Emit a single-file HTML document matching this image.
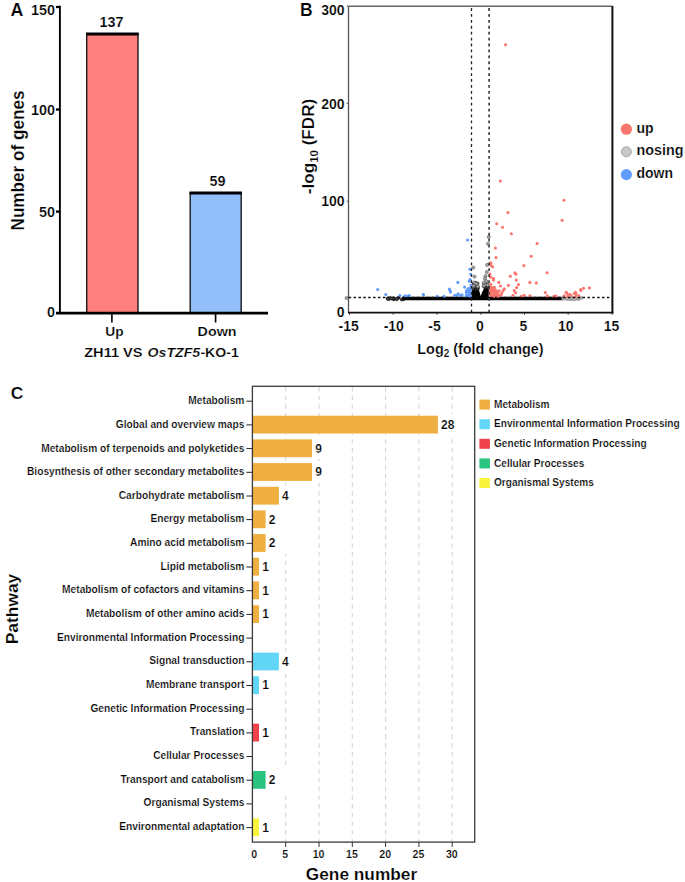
<!DOCTYPE html>
<html><head><meta charset="utf-8"><style>
html,body{margin:0;padding:0;background:#fff;width:685px;height:882px;overflow:hidden}
svg{display:block;font-family:"Liberation Sans", sans-serif}
</style></head><body>
<svg width="685" height="882" viewBox="0 0 685 882" font-family='"Liberation Sans", sans-serif'>
<style>text{stroke:#fff;stroke-width:0.2px}</style>
<rect width="685" height="882" fill="#fff"/>
<text x="10.4" y="15.8" font-size="17.8" font-weight="bold" fill="#000" >A</text>
<line x1="59.9" y1="5.8" x2="59.9" y2="314" stroke="#000" stroke-width="1.9"/>
<line x1="56" y1="7.0" x2="60" y2="7.0" stroke="#000" stroke-width="2.3"/>
<line x1="56" y1="109.5" x2="60" y2="109.5" stroke="#000" stroke-width="2.3"/>
<line x1="56" y1="211.6" x2="60" y2="211.6" stroke="#000" stroke-width="2.3"/>
<rect x="86.7" y="33.9" width="51.3" height="279.1" fill="#FF7F7F" stroke="#1a1a1a" stroke-width="1.4"/>
<line x1="86.0" y1="33.9" x2="138.7" y2="33.9" stroke="#000" stroke-width="3"/>
<rect x="190.2" y="193.1" width="51.0" height="119.9" fill="#92BFFA" stroke="#1a1a1a" stroke-width="1.4"/>
<line x1="189.5" y1="193.1" x2="241.89999999999998" y2="193.1" stroke="#000" stroke-width="3"/>
<line x1="56" y1="313.2" x2="268" y2="313.2" stroke="#000" stroke-width="2.8"/>
<line x1="111.9" y1="314" x2="111.9" y2="322.5" stroke="#000" stroke-width="1.6"/>
<line x1="215.6" y1="314" x2="215.6" y2="322.5" stroke="#000" stroke-width="1.6"/>
<text x="55" y="14.6" font-size="14.4" font-weight="bold" fill="#000" text-anchor="end" >150</text>
<text x="55" y="114.6" font-size="14.4" font-weight="bold" fill="#000" text-anchor="end" >100</text>
<text x="55" y="216.6" font-size="14.4" font-weight="bold" fill="#000" text-anchor="end" >50</text>
<text x="55" y="316.9" font-size="14.4" font-weight="bold" fill="#000" text-anchor="end" >0</text>
<text x="111.6" y="27.3" font-size="14.4" font-weight="bold" fill="#000" text-anchor="middle" >137</text>
<text x="217.6" y="186.4" font-size="14.4" font-weight="bold" fill="#000" text-anchor="middle" >59</text>
<text x="105.3" y="335.7" font-size="13.5" font-weight="bold" fill="#000" textLength="18.3" lengthAdjust="spacingAndGlyphs" >Up</text>
<text x="197.6" y="335.7" font-size="13.6" font-weight="bold" fill="#000" textLength="39" lengthAdjust="spacingAndGlyphs" >Down</text>
<text x="84.2" y="356.6" font-size="13.3" font-weight="bold" fill="#000" textLength="58.4" lengthAdjust="spacingAndGlyphs" >ZH11 VS</text>
<text x="147.6" y="356.6" font-size="13.3" font-weight="bold" fill="#000" textLength="52.6" lengthAdjust="spacingAndGlyphs" font-style="italic" >OsTZF5</text>
<text x="200.4" y="356.6" font-size="13.3" font-weight="bold" fill="#000" textLength="38.4" lengthAdjust="spacingAndGlyphs" >-KO-1</text>
<text x="0" y="0" font-size="17.7" font-weight="bold" fill="#000" textLength="140" lengthAdjust="spacingAndGlyphs" transform="translate(23.9,230.5) rotate(-90)" >Number of genes</text>
<text x="300" y="15.8" font-size="17.5" font-weight="bold" fill="#000" >B</text>
<line x1="348.5" y1="6.2" x2="612.4" y2="6.2" stroke="#666" stroke-width="1.4"/>
<line x1="348.5" y1="6" x2="348.5" y2="313" stroke="#555" stroke-width="1.3"/>
<line x1="612.4" y1="6" x2="612.4" y2="313.6" stroke="#111" stroke-width="2"/>
<line x1="348" y1="312.7" x2="613.4" y2="312.7" stroke="#111" stroke-width="1.8"/>
<line x1="346.8" y1="6.2" x2="348.5" y2="6.2" stroke="#555" stroke-width="1"/>
<line x1="346.8" y1="103.4" x2="348.5" y2="103.4" stroke="#555" stroke-width="1"/>
<line x1="346.8" y1="201.2" x2="348.5" y2="201.2" stroke="#555" stroke-width="1"/>
<line x1="349.5" y1="312.7" x2="349.5" y2="314.7" stroke="#333" stroke-width="1"/>
<line x1="393.2" y1="312.7" x2="393.2" y2="314.7" stroke="#333" stroke-width="1"/>
<line x1="437.0" y1="312.7" x2="437.0" y2="314.7" stroke="#333" stroke-width="1"/>
<line x1="480.8" y1="312.7" x2="480.8" y2="314.7" stroke="#333" stroke-width="1"/>
<line x1="524.5" y1="312.7" x2="524.5" y2="314.7" stroke="#333" stroke-width="1"/>
<line x1="568.2" y1="312.7" x2="568.2" y2="314.7" stroke="#333" stroke-width="1"/>
<line x1="612.0" y1="312.7" x2="612.0" y2="314.7" stroke="#333" stroke-width="1"/>
<circle cx="567.8" cy="298.0" r="1.3" fill="#bdbdbd" stroke="#808080" stroke-width="0.5"/>
<circle cx="574.7" cy="297.9" r="1.3" fill="#bdbdbd" stroke="#808080" stroke-width="0.5"/>
<circle cx="572.3" cy="298.4" r="1.3" fill="#bdbdbd" stroke="#808080" stroke-width="0.5"/>
<circle cx="562.2" cy="298.6" r="1.3" fill="#bdbdbd" stroke="#808080" stroke-width="0.5"/>
<circle cx="561.8" cy="298.5" r="1.3" fill="#bdbdbd" stroke="#808080" stroke-width="0.5"/>
<circle cx="562.5" cy="297.9" r="1.3" fill="#bdbdbd" stroke="#808080" stroke-width="0.5"/>
<circle cx="569.9" cy="299.1" r="1.3" fill="#bdbdbd" stroke="#808080" stroke-width="0.5"/>
<circle cx="563.6" cy="298.2" r="1.3" fill="#bdbdbd" stroke="#808080" stroke-width="0.5"/>
<circle cx="574.2" cy="299.3" r="1.3" fill="#bdbdbd" stroke="#808080" stroke-width="0.5"/>
<circle cx="573.1" cy="298.4" r="1.3" fill="#bdbdbd" stroke="#808080" stroke-width="0.5"/>
<circle cx="581.5" cy="297.9" r="1.3" fill="#bdbdbd" stroke="#808080" stroke-width="0.5"/>
<circle cx="579.0" cy="298.3" r="1.3" fill="#bdbdbd" stroke="#808080" stroke-width="0.5"/>
<circle cx="564.0" cy="298.0" r="1.3" fill="#bdbdbd" stroke="#808080" stroke-width="0.5"/>
<circle cx="567.5" cy="299.1" r="1.3" fill="#bdbdbd" stroke="#808080" stroke-width="0.5"/>
<circle cx="564.8" cy="298.7" r="1.3" fill="#bdbdbd" stroke="#808080" stroke-width="0.5"/>
<circle cx="574.4" cy="298.4" r="1.3" fill="#bdbdbd" stroke="#808080" stroke-width="0.5"/>
<circle cx="572.5" cy="297.9" r="1.3" fill="#bdbdbd" stroke="#808080" stroke-width="0.5"/>
<circle cx="562.3" cy="298.1" r="1.3" fill="#bdbdbd" stroke="#808080" stroke-width="0.5"/>
<circle cx="575.3" cy="298.5" r="1.3" fill="#bdbdbd" stroke="#808080" stroke-width="0.5"/>
<circle cx="567.6" cy="298.7" r="1.3" fill="#bdbdbd" stroke="#808080" stroke-width="0.5"/>
<circle cx="570.5" cy="298.3" r="1.3" fill="#bdbdbd" stroke="#808080" stroke-width="0.5"/>
<circle cx="577.7" cy="298.9" r="1.3" fill="#bdbdbd" stroke="#808080" stroke-width="0.5"/>
<circle cx="566.1" cy="298.7" r="1.3" fill="#bdbdbd" stroke="#808080" stroke-width="0.5"/>
<circle cx="572.0" cy="299.2" r="1.3" fill="#bdbdbd" stroke="#808080" stroke-width="0.5"/>
<circle cx="576.3" cy="298.3" r="1.3" fill="#bdbdbd" stroke="#808080" stroke-width="0.5"/>
<circle cx="581.6" cy="298.0" r="1.3" fill="#bdbdbd" stroke="#808080" stroke-width="0.5"/>
<circle cx="569.8" cy="299.0" r="1.3" fill="#bdbdbd" stroke="#808080" stroke-width="0.5"/>
<circle cx="564.2" cy="298.6" r="1.3" fill="#bdbdbd" stroke="#808080" stroke-width="0.5"/>
<circle cx="561.8" cy="298.9" r="1.3" fill="#bdbdbd" stroke="#808080" stroke-width="0.5"/>
<circle cx="577.1" cy="298.7" r="1.3" fill="#bdbdbd" stroke="#808080" stroke-width="0.5"/>
<circle cx="579.4" cy="298.3" r="1.3" fill="#bdbdbd" stroke="#808080" stroke-width="0.5"/>
<circle cx="575.6" cy="298.8" r="1.3" fill="#bdbdbd" stroke="#808080" stroke-width="0.5"/>
<circle cx="573.2" cy="298.5" r="1.3" fill="#bdbdbd" stroke="#808080" stroke-width="0.5"/>
<circle cx="578.6" cy="299.3" r="1.3" fill="#bdbdbd" stroke="#808080" stroke-width="0.5"/>
<circle cx="571.0" cy="298.9" r="1.3" fill="#bdbdbd" stroke="#808080" stroke-width="0.5"/>
<circle cx="562.3" cy="298.9" r="1.3" fill="#bdbdbd" stroke="#808080" stroke-width="0.5"/>
<circle cx="574.6" cy="299.4" r="1.3" fill="#bdbdbd" stroke="#808080" stroke-width="0.5"/>
<circle cx="578.3" cy="298.3" r="1.3" fill="#bdbdbd" stroke="#808080" stroke-width="0.5"/>
<circle cx="569.1" cy="298.9" r="1.3" fill="#bdbdbd" stroke="#808080" stroke-width="0.5"/>
<circle cx="561.5" cy="298.5" r="1.3" fill="#bdbdbd" stroke="#808080" stroke-width="0.5"/>
<circle cx="390.4" cy="298.2" r="1.3" fill="#555" stroke="#111" stroke-width="0.6"/>
<circle cx="388.5" cy="299.0" r="1.3" fill="#555" stroke="#111" stroke-width="0.6"/>
<circle cx="389.7" cy="298.4" r="1.3" fill="#555" stroke="#111" stroke-width="0.6"/>
<circle cx="394.1" cy="299.3" r="1.3" fill="#555" stroke="#111" stroke-width="0.6"/>
<circle cx="388.9" cy="298.6" r="1.3" fill="#555" stroke="#111" stroke-width="0.6"/>
<circle cx="396.8" cy="299.5" r="1.3" fill="#555" stroke="#111" stroke-width="0.6"/>
<circle cx="401.4" cy="299.6" r="1.3" fill="#555" stroke="#111" stroke-width="0.6"/>
<circle cx="392.2" cy="298.6" r="1.3" fill="#555" stroke="#111" stroke-width="0.6"/>
<circle cx="393.6" cy="299.3" r="1.3" fill="#555" stroke="#111" stroke-width="0.6"/>
<circle cx="403.8" cy="297.7" r="1.3" fill="#555" stroke="#111" stroke-width="0.6"/>
<circle cx="390.5" cy="298.3" r="1.3" fill="#555" stroke="#111" stroke-width="0.6"/>
<circle cx="391.5" cy="298.7" r="1.3" fill="#555" stroke="#111" stroke-width="0.6"/>
<circle cx="397.5" cy="298.2" r="1.3" fill="#555" stroke="#111" stroke-width="0.6"/>
<circle cx="387.6" cy="298.6" r="1.3" fill="#555" stroke="#111" stroke-width="0.6"/>
<circle cx="393.8" cy="298.8" r="1.3" fill="#555" stroke="#111" stroke-width="0.6"/>
<circle cx="403.7" cy="299.2" r="1.3" fill="#555" stroke="#111" stroke-width="0.6"/>
<circle cx="396.3" cy="298.9" r="1.3" fill="#555" stroke="#111" stroke-width="0.6"/>
<circle cx="399.0" cy="297.7" r="1.3" fill="#555" stroke="#111" stroke-width="0.6"/>
<circle cx="402.8" cy="299.4" r="1.3" fill="#555" stroke="#111" stroke-width="0.6"/>
<circle cx="402.4" cy="299.5" r="1.3" fill="#555" stroke="#111" stroke-width="0.6"/>
<circle cx="394.2" cy="298.5" r="1.3" fill="#555" stroke="#111" stroke-width="0.6"/>
<circle cx="389.3" cy="298.9" r="1.3" fill="#555" stroke="#111" stroke-width="0.6"/>
<circle cx="388.6" cy="298.2" r="1.3" fill="#555" stroke="#111" stroke-width="0.6"/>
<circle cx="391.0" cy="298.2" r="1.3" fill="#555" stroke="#111" stroke-width="0.6"/>
<circle cx="393.3" cy="298.0" r="1.3" fill="#555" stroke="#111" stroke-width="0.6"/>
<circle cx="387.5" cy="298.4" r="1.3" fill="#555" stroke="#111" stroke-width="0.6"/>
<circle cx="389.2" cy="298.5" r="1.3" fill="#555" stroke="#111" stroke-width="0.6"/>
<circle cx="387.9" cy="299.1" r="1.3" fill="#555" stroke="#111" stroke-width="0.6"/>
<circle cx="397.9" cy="298.0" r="1.3" fill="#555" stroke="#111" stroke-width="0.6"/>
<circle cx="391.8" cy="298.5" r="1.3" fill="#555" stroke="#111" stroke-width="0.6"/>
<rect x="402" y="296.7" width="159.8" height="3.6" rx="1.6" fill="#000"/>
<path d="M471.7,298 L471.7,290 L473,289.5 L475,289 L477.5,288 L478.8,289.5 L479.9,293 L480.4,296 L481,295 L482,292.4 L483.5,289.5 L485,287.5 L486.5,287.3 L488,288 L488.8,289 L488.8,298 Z" fill="#000"/>
<circle cx="475.2" cy="283.3" r="1.3" fill="#555" stroke="#111" stroke-width="0.6"/>
<circle cx="477.9" cy="289.0" r="1.3" fill="#555" stroke="#111" stroke-width="0.6"/>
<circle cx="475.8" cy="285.6" r="1.3" fill="#555" stroke="#111" stroke-width="0.6"/>
<circle cx="473.7" cy="283.2" r="1.3" fill="#555" stroke="#111" stroke-width="0.6"/>
<circle cx="475.1" cy="284.2" r="1.3" fill="#555" stroke="#111" stroke-width="0.6"/>
<circle cx="477.8" cy="283.5" r="1.3" fill="#555" stroke="#111" stroke-width="0.6"/>
<circle cx="473.3" cy="288.7" r="1.3" fill="#555" stroke="#111" stroke-width="0.6"/>
<circle cx="476.1" cy="283.5" r="1.3" fill="#555" stroke="#111" stroke-width="0.6"/>
<circle cx="476.2" cy="282.7" r="1.3" fill="#555" stroke="#111" stroke-width="0.6"/>
<circle cx="476.1" cy="288.9" r="1.3" fill="#555" stroke="#111" stroke-width="0.6"/>
<circle cx="477.9" cy="287.0" r="1.3" fill="#555" stroke="#111" stroke-width="0.6"/>
<circle cx="474.6" cy="284.9" r="1.3" fill="#555" stroke="#111" stroke-width="0.6"/>
<circle cx="474.1" cy="287.5" r="1.3" fill="#555" stroke="#111" stroke-width="0.6"/>
<circle cx="476.1" cy="287.6" r="1.3" fill="#555" stroke="#111" stroke-width="0.6"/>
<circle cx="475.0" cy="283.9" r="1.3" fill="#555" stroke="#111" stroke-width="0.6"/>
<circle cx="477.7" cy="288.9" r="1.3" fill="#555" stroke="#111" stroke-width="0.6"/>
<circle cx="477.9" cy="287.7" r="1.3" fill="#555" stroke="#111" stroke-width="0.6"/>
<circle cx="477.7" cy="287.3" r="1.3" fill="#555" stroke="#111" stroke-width="0.6"/>
<circle cx="474.4" cy="285.9" r="1.3" fill="#555" stroke="#111" stroke-width="0.6"/>
<circle cx="475.2" cy="282.7" r="1.3" fill="#555" stroke="#111" stroke-width="0.6"/>
<circle cx="473.4" cy="284.3" r="1.3" fill="#555" stroke="#111" stroke-width="0.6"/>
<circle cx="474.6" cy="287.0" r="1.3" fill="#555" stroke="#111" stroke-width="0.6"/>
<circle cx="487.6" cy="285.2" r="1.3" fill="#444" stroke="#111" stroke-width="0.6"/>
<circle cx="487.5" cy="287.9" r="1.3" fill="#444" stroke="#111" stroke-width="0.6"/>
<circle cx="487.6" cy="284.8" r="1.3" fill="#444" stroke="#111" stroke-width="0.6"/>
<circle cx="484.3" cy="284.1" r="1.3" fill="#444" stroke="#111" stroke-width="0.6"/>
<circle cx="484.2" cy="284.0" r="1.3" fill="#444" stroke="#111" stroke-width="0.6"/>
<circle cx="486.1" cy="287.5" r="1.3" fill="#444" stroke="#111" stroke-width="0.6"/>
<circle cx="487.1" cy="285.4" r="1.3" fill="#444" stroke="#111" stroke-width="0.6"/>
<circle cx="486.2" cy="287.0" r="1.3" fill="#444" stroke="#111" stroke-width="0.6"/>
<circle cx="483.7" cy="286.3" r="1.3" fill="#444" stroke="#111" stroke-width="0.6"/>
<circle cx="487.4" cy="286.9" r="1.3" fill="#444" stroke="#111" stroke-width="0.6"/>
<circle cx="486.7" cy="285.4" r="1.3" fill="#444" stroke="#111" stroke-width="0.6"/>
<circle cx="484.1" cy="286.9" r="1.3" fill="#444" stroke="#111" stroke-width="0.6"/>
<circle cx="484.8" cy="287.0" r="1.3" fill="#444" stroke="#111" stroke-width="0.6"/>
<circle cx="487.7" cy="285.0" r="1.3" fill="#444" stroke="#111" stroke-width="0.6"/>
<circle cx="485.1" cy="287.7" r="1.3" fill="#444" stroke="#111" stroke-width="0.6"/>
<circle cx="486.6" cy="283.9" r="1.3" fill="#444" stroke="#111" stroke-width="0.6"/>
<circle cx="483.9" cy="283.8" r="1.3" fill="#444" stroke="#111" stroke-width="0.6"/>
<circle cx="487.4" cy="287.0" r="1.3" fill="#444" stroke="#111" stroke-width="0.6"/>
<circle cx="473.4" cy="267.5" r="1.55" fill="#aaa" stroke="#555" stroke-width="0.6"/>
<circle cx="474.5" cy="276.6" r="1.55" fill="#aaa" stroke="#555" stroke-width="0.6"/>
<circle cx="475.7" cy="284.2" r="1.55" fill="#aaa" stroke="#555" stroke-width="0.6"/>
<circle cx="474.3" cy="282.5" r="1.55" fill="#aaa" stroke="#555" stroke-width="0.6"/>
<circle cx="476.6" cy="283.5" r="1.55" fill="#aaa" stroke="#555" stroke-width="0.6"/>
<circle cx="473.5" cy="286.0" r="1.55" fill="#aaa" stroke="#555" stroke-width="0.6"/>
<circle cx="477.8" cy="286.5" r="1.55" fill="#aaa" stroke="#555" stroke-width="0.6"/>
<circle cx="487.1" cy="264.9" r="1.55" fill="#aaa" stroke="#555" stroke-width="0.6"/>
<circle cx="486.8" cy="272.0" r="1.55" fill="#aaa" stroke="#555" stroke-width="0.6"/>
<circle cx="485.6" cy="276.0" r="1.55" fill="#aaa" stroke="#555" stroke-width="0.6"/>
<circle cx="485.0" cy="278.4" r="1.55" fill="#aaa" stroke="#555" stroke-width="0.6"/>
<circle cx="485.0" cy="284.8" r="1.55" fill="#aaa" stroke="#555" stroke-width="0.6"/>
<circle cx="484.0" cy="282.5" r="1.55" fill="#aaa" stroke="#555" stroke-width="0.6"/>
<circle cx="486.2" cy="281.2" r="1.55" fill="#aaa" stroke="#555" stroke-width="0.6"/>
<circle cx="483.5" cy="285.8" r="1.55" fill="#aaa" stroke="#555" stroke-width="0.6"/>
<circle cx="487.6" cy="285.0" r="1.55" fill="#aaa" stroke="#555" stroke-width="0.6"/>
<circle cx="488.8" cy="237.0" r="1.55" fill="#aaa" stroke="#555" stroke-width="0.6"/>
<circle cx="488.0" cy="243.8" r="1.55" fill="#aaa" stroke="#555" stroke-width="0.6"/>
<circle cx="346.5" cy="298.0" r="1.55" fill="#aaa" stroke="#555" stroke-width="0.6"/>
<circle cx="505.5" cy="44.8" r="1.55" fill="#F8766D"/>
<circle cx="500.4" cy="181.0" r="1.55" fill="#F8766D"/>
<circle cx="563.9" cy="200.2" r="1.55" fill="#F8766D"/>
<circle cx="507.9" cy="212.6" r="1.55" fill="#F8766D"/>
<circle cx="562.1" cy="220.3" r="1.55" fill="#F8766D"/>
<circle cx="496.7" cy="223.8" r="1.55" fill="#F8766D"/>
<circle cx="502.5" cy="227.3" r="1.55" fill="#F8766D"/>
<circle cx="511.4" cy="233.8" r="1.55" fill="#F8766D"/>
<circle cx="537.1" cy="243.5" r="1.55" fill="#F8766D"/>
<circle cx="495.4" cy="248.0" r="1.55" fill="#F8766D"/>
<circle cx="531.2" cy="256.2" r="1.55" fill="#F8766D"/>
<circle cx="496.0" cy="257.6" r="1.55" fill="#F8766D"/>
<circle cx="490.6" cy="262.7" r="1.55" fill="#F8766D"/>
<circle cx="490.8" cy="263.2" r="1.55" fill="#F8766D"/>
<circle cx="490.9" cy="265.3" r="1.55" fill="#F8766D"/>
<circle cx="492.6" cy="266.8" r="1.55" fill="#F8766D"/>
<circle cx="523.8" cy="265.6" r="1.55" fill="#F8766D"/>
<circle cx="547.1" cy="272.7" r="1.55" fill="#F8766D"/>
<circle cx="514.8" cy="272.9" r="1.55" fill="#F8766D"/>
<circle cx="516.1" cy="274.1" r="1.55" fill="#F8766D"/>
<circle cx="510.3" cy="276.3" r="1.55" fill="#F8766D"/>
<circle cx="490.1" cy="274.1" r="1.55" fill="#F8766D"/>
<circle cx="490.8" cy="277.2" r="1.55" fill="#F8766D"/>
<circle cx="493.5" cy="278.6" r="1.55" fill="#F8766D"/>
<circle cx="493.5" cy="280.1" r="1.55" fill="#F8766D"/>
<circle cx="516.3" cy="280.1" r="1.55" fill="#F8766D"/>
<circle cx="498.7" cy="282.4" r="1.55" fill="#F8766D"/>
<circle cx="529.9" cy="282.4" r="1.55" fill="#F8766D"/>
<circle cx="536.3" cy="282.9" r="1.55" fill="#F8766D"/>
<circle cx="518.5" cy="284.5" r="1.55" fill="#F8766D"/>
<circle cx="500.5" cy="286.0" r="1.55" fill="#F8766D"/>
<circle cx="508.4" cy="285.4" r="1.55" fill="#F8766D"/>
<circle cx="516.7" cy="287.6" r="1.55" fill="#F8766D"/>
<circle cx="504.3" cy="288.9" r="1.55" fill="#F8766D"/>
<circle cx="503.1" cy="290.6" r="1.55" fill="#F8766D"/>
<circle cx="501.9" cy="293.0" r="1.55" fill="#F8766D"/>
<circle cx="501.1" cy="294.7" r="1.55" fill="#F8766D"/>
<circle cx="499.0" cy="290.9" r="1.55" fill="#F8766D"/>
<circle cx="514.2" cy="290.6" r="1.55" fill="#F8766D"/>
<circle cx="515.7" cy="292.7" r="1.55" fill="#F8766D"/>
<circle cx="513.0" cy="295.3" r="1.55" fill="#F8766D"/>
<circle cx="545.3" cy="292.5" r="1.55" fill="#F8766D"/>
<circle cx="521.3" cy="296.2" r="1.55" fill="#F8766D"/>
<circle cx="524.1" cy="295.3" r="1.55" fill="#F8766D"/>
<circle cx="529.9" cy="295.9" r="1.55" fill="#F8766D"/>
<circle cx="547.3" cy="295.9" r="1.55" fill="#F8766D"/>
<circle cx="555.2" cy="296.4" r="1.55" fill="#F8766D"/>
<circle cx="589.4" cy="287.9" r="1.55" fill="#F8766D"/>
<circle cx="583.5" cy="288.2" r="1.55" fill="#F8766D"/>
<circle cx="580.6" cy="289.5" r="1.55" fill="#F8766D"/>
<circle cx="580.9" cy="290.5" r="1.55" fill="#F8766D"/>
<circle cx="566.1" cy="292.2" r="1.55" fill="#F8766D"/>
<circle cx="567.1" cy="293.5" r="1.55" fill="#F8766D"/>
<circle cx="569.7" cy="294.5" r="1.55" fill="#F8766D"/>
<circle cx="571.0" cy="295.4" r="1.55" fill="#F8766D"/>
<circle cx="575.6" cy="292.2" r="1.55" fill="#F8766D"/>
<circle cx="574.3" cy="293.5" r="1.55" fill="#F8766D"/>
<circle cx="576.3" cy="294.5" r="1.55" fill="#F8766D"/>
<circle cx="575.3" cy="296.8" r="1.55" fill="#F8766D"/>
<circle cx="578.9" cy="295.8" r="1.55" fill="#F8766D"/>
<circle cx="564.1" cy="295.8" r="1.55" fill="#F8766D"/>
<circle cx="555.9" cy="296.1" r="1.55" fill="#F8766D"/>
<circle cx="553.9" cy="296.4" r="1.55" fill="#F8766D"/>
<circle cx="567.7" cy="296.4" r="1.55" fill="#F8766D"/>
<circle cx="490.9" cy="294.3" r="1.55" fill="#F8766D"/>
<circle cx="498.4" cy="295.7" r="1.55" fill="#F8766D"/>
<circle cx="492.8" cy="291.3" r="1.55" fill="#F8766D"/>
<circle cx="490.8" cy="284.2" r="1.55" fill="#F8766D"/>
<circle cx="498.3" cy="295.6" r="1.55" fill="#F8766D"/>
<circle cx="494.3" cy="295.9" r="1.55" fill="#F8766D"/>
<circle cx="493.5" cy="295.2" r="1.55" fill="#F8766D"/>
<circle cx="497.0" cy="292.2" r="1.55" fill="#F8766D"/>
<circle cx="491.9" cy="287.7" r="1.55" fill="#F8766D"/>
<circle cx="491.8" cy="291.3" r="1.55" fill="#F8766D"/>
<circle cx="491.9" cy="289.2" r="1.55" fill="#F8766D"/>
<circle cx="490.8" cy="295.4" r="1.55" fill="#F8766D"/>
<circle cx="492.8" cy="290.3" r="1.55" fill="#F8766D"/>
<circle cx="494.9" cy="295.7" r="1.55" fill="#F8766D"/>
<circle cx="493.4" cy="295.6" r="1.55" fill="#F8766D"/>
<circle cx="494.1" cy="292.0" r="1.55" fill="#F8766D"/>
<circle cx="494.3" cy="287.3" r="1.55" fill="#F8766D"/>
<circle cx="493.6" cy="288.0" r="1.55" fill="#F8766D"/>
<circle cx="489.6" cy="294.0" r="1.55" fill="#F8766D"/>
<circle cx="491.2" cy="289.9" r="1.55" fill="#F8766D"/>
<circle cx="496.1" cy="293.5" r="1.55" fill="#F8766D"/>
<circle cx="492.5" cy="290.8" r="1.55" fill="#F8766D"/>
<circle cx="494.6" cy="294.6" r="1.55" fill="#F8766D"/>
<circle cx="490.6" cy="291.0" r="1.55" fill="#F8766D"/>
<circle cx="491.8" cy="287.5" r="1.55" fill="#F8766D"/>
<circle cx="496.6" cy="293.5" r="1.55" fill="#F8766D"/>
<circle cx="494.7" cy="294.3" r="1.55" fill="#F8766D"/>
<circle cx="497.8" cy="294.4" r="1.55" fill="#F8766D"/>
<circle cx="495.1" cy="292.4" r="1.55" fill="#F8766D"/>
<circle cx="494.2" cy="293.6" r="1.55" fill="#F8766D"/>
<circle cx="493.7" cy="291.7" r="1.55" fill="#F8766D"/>
<circle cx="493.9" cy="295.9" r="1.55" fill="#F8766D"/>
<circle cx="495.9" cy="295.6" r="1.55" fill="#F8766D"/>
<circle cx="498.1" cy="294.2" r="1.55" fill="#F8766D"/>
<circle cx="494.6" cy="296.0" r="1.55" fill="#F8766D"/>
<circle cx="497.2" cy="292.1" r="1.55" fill="#F8766D"/>
<circle cx="490.7" cy="289.5" r="1.55" fill="#F8766D"/>
<circle cx="490.3" cy="287.0" r="1.55" fill="#F8766D"/>
<circle cx="490.3" cy="292.4" r="1.55" fill="#F8766D"/>
<circle cx="496.7" cy="295.9" r="1.55" fill="#F8766D"/>
<circle cx="491.0" cy="293.0" r="1.55" fill="#F8766D"/>
<circle cx="495.5" cy="289.9" r="1.55" fill="#F8766D"/>
<circle cx="497.5" cy="296.4" r="1.55" fill="#F8766D"/>
<circle cx="491.6" cy="295.9" r="1.55" fill="#F8766D"/>
<circle cx="493.2" cy="290.9" r="1.55" fill="#F8766D"/>
<circle cx="498.5" cy="296.1" r="1.55" fill="#F8766D"/>
<circle cx="491.1" cy="289.4" r="1.55" fill="#F8766D"/>
<circle cx="494.2" cy="290.2" r="1.55" fill="#F8766D"/>
<circle cx="467.5" cy="240.0" r="1.55" fill="#619CFF"/>
<circle cx="469.9" cy="269.3" r="1.55" fill="#619CFF"/>
<circle cx="470.7" cy="274.3" r="1.55" fill="#619CFF"/>
<circle cx="470.1" cy="279.5" r="1.55" fill="#619CFF"/>
<circle cx="469.3" cy="281.3" r="1.55" fill="#619CFF"/>
<circle cx="471.0" cy="285.4" r="1.55" fill="#619CFF"/>
<circle cx="464.6" cy="287.1" r="1.55" fill="#619CFF"/>
<circle cx="457.9" cy="282.4" r="1.55" fill="#619CFF"/>
<circle cx="468.4" cy="288.6" r="1.55" fill="#619CFF"/>
<circle cx="449.5" cy="289.1" r="1.55" fill="#619CFF"/>
<circle cx="450.5" cy="292.1" r="1.55" fill="#619CFF"/>
<circle cx="450.0" cy="290.5" r="1.55" fill="#619CFF"/>
<circle cx="423.3" cy="294.6" r="1.55" fill="#619CFF"/>
<circle cx="437.2" cy="296.2" r="1.55" fill="#619CFF"/>
<circle cx="444.0" cy="296.4" r="1.55" fill="#619CFF"/>
<circle cx="454.7" cy="295.3" r="1.55" fill="#619CFF"/>
<circle cx="458.2" cy="293.8" r="1.55" fill="#619CFF"/>
<circle cx="462.0" cy="294.7" r="1.55" fill="#619CFF"/>
<circle cx="456.5" cy="295.3" r="1.55" fill="#619CFF"/>
<circle cx="460.0" cy="295.5" r="1.55" fill="#619CFF"/>
<circle cx="377.7" cy="289.6" r="1.55" fill="#619CFF"/>
<circle cx="385.8" cy="294.6" r="1.55" fill="#619CFF"/>
<circle cx="399.9" cy="295.5" r="1.55" fill="#619CFF"/>
<circle cx="405.1" cy="295.8" r="1.55" fill="#619CFF"/>
<circle cx="409.2" cy="295.5" r="1.55" fill="#619CFF"/>
<circle cx="408.0" cy="296.1" r="1.55" fill="#619CFF"/>
<circle cx="423.5" cy="294.7" r="1.55" fill="#619CFF"/>
<circle cx="467.2" cy="291.6" r="1.55" fill="#619CFF"/>
<circle cx="470.0" cy="288.2" r="1.55" fill="#619CFF"/>
<circle cx="469.1" cy="291.9" r="1.55" fill="#619CFF"/>
<circle cx="466.3" cy="292.5" r="1.55" fill="#619CFF"/>
<circle cx="469.4" cy="292.4" r="1.55" fill="#619CFF"/>
<circle cx="466.5" cy="296.4" r="1.55" fill="#619CFF"/>
<circle cx="470.3" cy="296.3" r="1.55" fill="#619CFF"/>
<circle cx="466.7" cy="291.5" r="1.55" fill="#619CFF"/>
<circle cx="466.4" cy="295.1" r="1.55" fill="#619CFF"/>
<circle cx="467.6" cy="289.9" r="1.55" fill="#619CFF"/>
<circle cx="468.4" cy="295.8" r="1.55" fill="#619CFF"/>
<circle cx="470.5" cy="290.2" r="1.55" fill="#619CFF"/>
<circle cx="467.0" cy="295.9" r="1.55" fill="#619CFF"/>
<circle cx="469.2" cy="294.0" r="1.55" fill="#619CFF"/>
<circle cx="466.7" cy="290.2" r="1.55" fill="#619CFF"/>
<circle cx="469.8" cy="291.6" r="1.55" fill="#619CFF"/>
<circle cx="466.6" cy="296.1" r="1.55" fill="#619CFF"/>
<circle cx="469.5" cy="294.8" r="1.55" fill="#619CFF"/>
<circle cx="466.6" cy="295.5" r="1.55" fill="#619CFF"/>
<circle cx="466.5" cy="295.6" r="1.55" fill="#619CFF"/>
<line x1="471.5" y1="8.1" x2="471.5" y2="312" stroke="#222" stroke-width="1.3" stroke-dasharray="2.8 3.114"/>
<line x1="489.1" y1="8.1" x2="489.1" y2="312" stroke="#333" stroke-width="1.6" stroke-dasharray="2.8 3.114"/>
<line x1="348.7" y1="297.5" x2="611" y2="297.5" stroke="#111" stroke-width="1.6" stroke-dasharray="2.5 2.371"/>
<text x="344.5" y="14.6" font-size="14" font-weight="bold" fill="#000" text-anchor="end" >300</text>
<text x="344.5" y="108.6" font-size="14" font-weight="bold" fill="#000" text-anchor="end" >200</text>
<text x="344.5" y="206.3" font-size="14" font-weight="bold" fill="#000" text-anchor="end" >100</text>
<text x="344.5" y="316.5" font-size="14" font-weight="bold" fill="#000" text-anchor="end" >0</text>
<text x="348.7" y="331.2" font-size="14" font-weight="bold" fill="#000" text-anchor="middle" >-15</text>
<text x="393.8" y="331.2" font-size="14" font-weight="bold" fill="#000" text-anchor="middle" >-10</text>
<text x="434.5" y="331.2" font-size="14" font-weight="bold" fill="#000" text-anchor="middle" >-5</text>
<text x="480" y="331.2" font-size="14" font-weight="bold" fill="#000" text-anchor="middle" >0</text>
<text x="523.4" y="331.2" font-size="14" font-weight="bold" fill="#000" text-anchor="middle" >5</text>
<text x="565.8" y="331.2" font-size="14" font-weight="bold" fill="#000" text-anchor="middle" >10</text>
<text x="611.5" y="331.2" font-size="14" font-weight="bold" fill="#000" text-anchor="middle" >15</text>
<text x="417.3" y="354.4" font-size="14.4" font-weight="bold">Log<tspan font-size="10" dy="3">2</tspan><tspan dy="-3"> (fold change)</tspan></text>
<text transform="translate(314.4,194.2) rotate(-90)" font-size="17.1" font-weight="bold">-log<tspan font-size="11.5" dy="4">10</tspan><tspan dy="-4"> (FDR)</tspan></text>
<circle cx="626.4" cy="129.2" r="5.6" fill="#F8766D"/>
<circle cx="626.4" cy="151.8" r="5.0" fill="#C8C8C8" stroke="#A8A8A8" stroke-width="1"/>
<circle cx="626.4" cy="174.6" r="5.6" fill="#619CFF"/>
<text x="636.5" y="133.1" font-size="14" font-weight="bold" fill="#000" >up</text>
<text x="636.6" y="155.4" font-size="14" font-weight="bold" fill="#000" textLength="46.8" lengthAdjust="spacingAndGlyphs" >nosing</text>
<text x="636.5" y="177.9" font-size="14" font-weight="bold" fill="#000" textLength="36.5" lengthAdjust="spacingAndGlyphs" >down</text>
<text x="10.8" y="399.4" font-size="17.3" font-weight="bold" fill="#000" >C</text>
<line x1="285.7" y1="387" x2="285.7" y2="842" stroke="#D4D4D4" stroke-width="1.1" stroke-dasharray="4.4 4.29"/>
<line x1="319.0" y1="387" x2="319.0" y2="842" stroke="#D4D4D4" stroke-width="1.1" stroke-dasharray="4.4 4.29"/>
<line x1="352.3" y1="387" x2="352.3" y2="842" stroke="#D4D4D4" stroke-width="1.1" stroke-dasharray="4.4 4.29"/>
<line x1="385.6" y1="387" x2="385.6" y2="842" stroke="#D4D4D4" stroke-width="1.1" stroke-dasharray="4.4 4.29"/>
<line x1="418.9" y1="387" x2="418.9" y2="842" stroke="#D4D4D4" stroke-width="1.1" stroke-dasharray="4.4 4.29"/>
<line x1="452.2" y1="387" x2="452.2" y2="842" stroke="#D4D4D4" stroke-width="1.1" stroke-dasharray="4.4 4.29"/>
<line x1="246.4" y1="401.2" x2="252.4" y2="401.2" stroke="#222" stroke-width="1"/>
<text x="244.4" y="404.2" font-size="10.2" font-weight="bold" fill="#000" text-anchor="end" >Metabolism</text>
<line x1="246.4" y1="424.9" x2="252.4" y2="424.9" stroke="#222" stroke-width="1"/>
<text x="244.4" y="427.84999999999997" font-size="10.2" font-weight="bold" fill="#000" text-anchor="end" >Global and overview maps</text>
<rect x="252.4" y="415.7" width="185.5" height="17.8" fill="#EFAF40"/>
<rect x="440.09999999999997" y="414.39" width="19.6" height="21" fill="#fff"/>
<text x="441.09999999999997" y="428.89" font-size="12" font-weight="bold" fill="#000" >28</text>
<line x1="246.4" y1="448.6" x2="252.4" y2="448.6" stroke="#222" stroke-width="1"/>
<text x="244.4" y="451.5" font-size="10.2" font-weight="bold" fill="#000" text-anchor="end" >Metabolism of terpenoids and polyketides</text>
<rect x="252.4" y="439.4" width="59.6" height="17.8" fill="#EFAF40"/>
<rect x="314.22499999999997" y="438.08" width="19.6" height="21" fill="#fff"/>
<text x="315.22499999999997" y="452.58" font-size="12" font-weight="bold" fill="#000" >9</text>
<line x1="246.4" y1="472.3" x2="252.4" y2="472.3" stroke="#222" stroke-width="1"/>
<text x="244.4" y="475.15" font-size="10.2" font-weight="bold" fill="#000" text-anchor="end" >Biosynthesis of other secondary metabolites</text>
<rect x="252.4" y="463.1" width="59.6" height="17.8" fill="#EFAF40"/>
<rect x="314.22499999999997" y="461.77" width="19.6" height="21" fill="#fff"/>
<text x="315.22499999999997" y="476.27" font-size="12" font-weight="bold" fill="#000" >9</text>
<line x1="246.4" y1="496.0" x2="252.4" y2="496.0" stroke="#222" stroke-width="1"/>
<text x="244.4" y="498.79999999999995" font-size="10.2" font-weight="bold" fill="#000" text-anchor="end" >Carbohydrate metabolism</text>
<rect x="252.4" y="486.8" width="26.5" height="17.8" fill="#EFAF40"/>
<rect x="281.09999999999997" y="485.46" width="19.6" height="21" fill="#fff"/>
<text x="282.09999999999997" y="499.96" font-size="12" font-weight="bold" fill="#000" >4</text>
<line x1="246.4" y1="519.6" x2="252.4" y2="519.6" stroke="#222" stroke-width="1"/>
<text x="244.4" y="522.45" font-size="10.2" font-weight="bold" fill="#000" text-anchor="end" >Energy metabolism</text>
<rect x="252.4" y="510.4" width="13.2" height="17.8" fill="#EFAF40"/>
<rect x="267.84999999999997" y="509.15" width="19.6" height="21" fill="#fff"/>
<text x="268.84999999999997" y="523.65" font-size="12" font-weight="bold" fill="#000" >2</text>
<line x1="246.4" y1="543.3" x2="252.4" y2="543.3" stroke="#222" stroke-width="1"/>
<text x="244.4" y="546.0999999999999" font-size="10.2" font-weight="bold" fill="#000" text-anchor="end" >Amino acid metabolism</text>
<rect x="252.4" y="534.1" width="13.2" height="17.8" fill="#EFAF40"/>
<rect x="267.84999999999997" y="532.84" width="19.6" height="21" fill="#fff"/>
<text x="268.84999999999997" y="547.34" font-size="12" font-weight="bold" fill="#000" >2</text>
<line x1="246.4" y1="567.0" x2="252.4" y2="567.0" stroke="#222" stroke-width="1"/>
<text x="244.4" y="569.75" font-size="10.2" font-weight="bold" fill="#000" text-anchor="end" >Lipid metabolism</text>
<rect x="252.4" y="557.8" width="6.6" height="17.8" fill="#EFAF40"/>
<rect x="261.22499999999997" y="556.53" width="19.6" height="21" fill="#fff"/>
<text x="262.22499999999997" y="571.03" font-size="12" font-weight="bold" fill="#000" >1</text>
<line x1="246.4" y1="590.7" x2="252.4" y2="590.7" stroke="#222" stroke-width="1"/>
<text x="244.4" y="593.4" font-size="10.2" font-weight="bold" fill="#000" text-anchor="end" >Metabolism of cofactors and vitamins</text>
<rect x="252.4" y="581.5" width="6.6" height="17.8" fill="#EFAF40"/>
<rect x="261.22499999999997" y="580.22" width="19.6" height="21" fill="#fff"/>
<text x="262.22499999999997" y="594.72" font-size="12" font-weight="bold" fill="#000" >1</text>
<line x1="246.4" y1="614.4" x2="252.4" y2="614.4" stroke="#222" stroke-width="1"/>
<text x="244.4" y="617.05" font-size="10.2" font-weight="bold" fill="#000" text-anchor="end" >Metabolism of other amino acids</text>
<rect x="252.4" y="605.2" width="6.6" height="17.8" fill="#EFAF40"/>
<rect x="261.22499999999997" y="603.91" width="19.6" height="21" fill="#fff"/>
<text x="262.22499999999997" y="618.41" font-size="12" font-weight="bold" fill="#000" >1</text>
<line x1="246.4" y1="638.1" x2="252.4" y2="638.1" stroke="#222" stroke-width="1"/>
<text x="244.4" y="640.7" font-size="10.2" font-weight="bold" fill="#000" text-anchor="end" >Environmental Information Processing</text>
<line x1="246.4" y1="661.8" x2="252.4" y2="661.8" stroke="#222" stroke-width="1"/>
<text x="244.4" y="664.3499999999999" font-size="10.2" font-weight="bold" fill="#000" text-anchor="end" >Signal transduction</text>
<rect x="252.4" y="652.6" width="26.5" height="17.8" fill="#62D6F6"/>
<rect x="281.09999999999997" y="651.29" width="19.6" height="21" fill="#fff"/>
<text x="282.09999999999997" y="665.79" font-size="12" font-weight="bold" fill="#000" >4</text>
<line x1="246.4" y1="685.5" x2="252.4" y2="685.5" stroke="#222" stroke-width="1"/>
<text x="244.4" y="688.0" font-size="10.2" font-weight="bold" fill="#000" text-anchor="end" >Membrane transport</text>
<rect x="252.4" y="676.3" width="6.6" height="17.8" fill="#62D6F6"/>
<rect x="261.22499999999997" y="674.98" width="19.6" height="21" fill="#fff"/>
<text x="262.22499999999997" y="689.48" font-size="12" font-weight="bold" fill="#000" >1</text>
<line x1="246.4" y1="709.2" x2="252.4" y2="709.2" stroke="#222" stroke-width="1"/>
<text x="244.4" y="711.65" font-size="10.2" font-weight="bold" fill="#000" text-anchor="end" >Genetic Information Processing</text>
<line x1="246.4" y1="732.9" x2="252.4" y2="732.9" stroke="#222" stroke-width="1"/>
<text x="244.4" y="735.3" font-size="10.2" font-weight="bold" fill="#000" text-anchor="end" >Translation</text>
<rect x="252.4" y="723.7" width="6.6" height="17.8" fill="#EF414B"/>
<rect x="261.22499999999997" y="722.36" width="19.6" height="21" fill="#fff"/>
<text x="262.22499999999997" y="736.86" font-size="12" font-weight="bold" fill="#000" >1</text>
<line x1="246.4" y1="756.5" x2="252.4" y2="756.5" stroke="#222" stroke-width="1"/>
<text x="244.4" y="758.95" font-size="10.2" font-weight="bold" fill="#000" text-anchor="end" >Cellular Processes</text>
<line x1="246.4" y1="780.2" x2="252.4" y2="780.2" stroke="#222" stroke-width="1"/>
<text x="244.4" y="782.5999999999999" font-size="10.2" font-weight="bold" fill="#000" text-anchor="end" >Transport and catabolism</text>
<rect x="252.4" y="771.0" width="13.2" height="17.8" fill="#2AC480"/>
<rect x="267.84999999999997" y="769.74" width="19.6" height="21" fill="#fff"/>
<text x="268.84999999999997" y="784.24" font-size="12" font-weight="bold" fill="#000" >2</text>
<line x1="246.4" y1="803.9" x2="252.4" y2="803.9" stroke="#222" stroke-width="1"/>
<text x="244.4" y="806.25" font-size="10.2" font-weight="bold" fill="#000" text-anchor="end" >Organismal Systems</text>
<line x1="246.4" y1="827.6" x2="252.4" y2="827.6" stroke="#222" stroke-width="1"/>
<text x="244.4" y="829.9" font-size="10.2" font-weight="bold" fill="#000" text-anchor="end" >Environmental adaptation</text>
<rect x="252.4" y="818.4" width="6.6" height="17.8" fill="#F9F33B"/>
<rect x="261.22499999999997" y="817.12" width="19.6" height="21" fill="#fff"/>
<text x="262.22499999999997" y="831.62" font-size="12" font-weight="bold" fill="#000" >1</text>
<rect x="252.4" y="386.3" width="222.3" height="455.8" fill="none" stroke="#3a3a3a" stroke-width="1.3"/>
<text x="254.3" y="857.9" font-size="10.6" font-weight="bold" fill="#000" text-anchor="middle" >0</text>
<line x1="285.7" y1="842" x2="285.7" y2="847" stroke="#333" stroke-width="1"/>
<text x="285.3" y="857.9" font-size="10.6" font-weight="bold" fill="#000" text-anchor="middle" >5</text>
<line x1="319.0" y1="842" x2="319.0" y2="847" stroke="#333" stroke-width="1"/>
<text x="318.6" y="857.9" font-size="10.6" font-weight="bold" fill="#000" text-anchor="middle" >10</text>
<line x1="352.3" y1="842" x2="352.3" y2="847" stroke="#333" stroke-width="1"/>
<text x="351.90000000000003" y="857.9" font-size="10.6" font-weight="bold" fill="#000" text-anchor="middle" >15</text>
<line x1="385.6" y1="842" x2="385.6" y2="847" stroke="#333" stroke-width="1"/>
<text x="385.20000000000005" y="857.9" font-size="10.6" font-weight="bold" fill="#000" text-anchor="middle" >20</text>
<line x1="418.9" y1="842" x2="418.9" y2="847" stroke="#333" stroke-width="1"/>
<text x="418.5" y="857.9" font-size="10.6" font-weight="bold" fill="#000" text-anchor="middle" >25</text>
<line x1="452.2" y1="842" x2="452.2" y2="847" stroke="#333" stroke-width="1"/>
<text x="451.80000000000007" y="857.9" font-size="10.6" font-weight="bold" fill="#000" text-anchor="middle" >30</text>
<text x="305.8" y="880" font-size="17.2" font-weight="bold" fill="#000" textLength="111.4" lengthAdjust="spacingAndGlyphs" >Gene number</text>
<text x="0" y="0" font-size="17.2" font-weight="bold" fill="#000" textLength="70.4" lengthAdjust="spacingAndGlyphs" transform="translate(18.2,644.2) rotate(-90)" >Pathway</text>
<rect x="479.4" y="399.6" width="10.5" height="10" fill="#EFAF40"/>
<text x="494.0" y="407.8" font-size="10.1" font-weight="bold" fill="#000" >Metabolism</text>
<rect x="479.4" y="419.2" width="10.5" height="10" fill="#62D6F6"/>
<text x="494.0" y="427.40000000000003" font-size="10.1" font-weight="bold" fill="#000" >Environmental Information Processing</text>
<rect x="479.4" y="438.8" width="10.5" height="10" fill="#EF414B"/>
<text x="494.0" y="447.0" font-size="10.1" font-weight="bold" fill="#000" >Genetic Information Processing</text>
<rect x="479.4" y="458.4" width="10.5" height="10" fill="#2AC480"/>
<text x="494.0" y="466.6" font-size="10.1" font-weight="bold" fill="#000" >Cellular Processes</text>
<rect x="479.4" y="478.0" width="10.5" height="10" fill="#F9F33B"/>
<text x="494.0" y="486.2" font-size="10.1" font-weight="bold" fill="#000" >Organismal Systems</text>
</svg>
</body></html>
